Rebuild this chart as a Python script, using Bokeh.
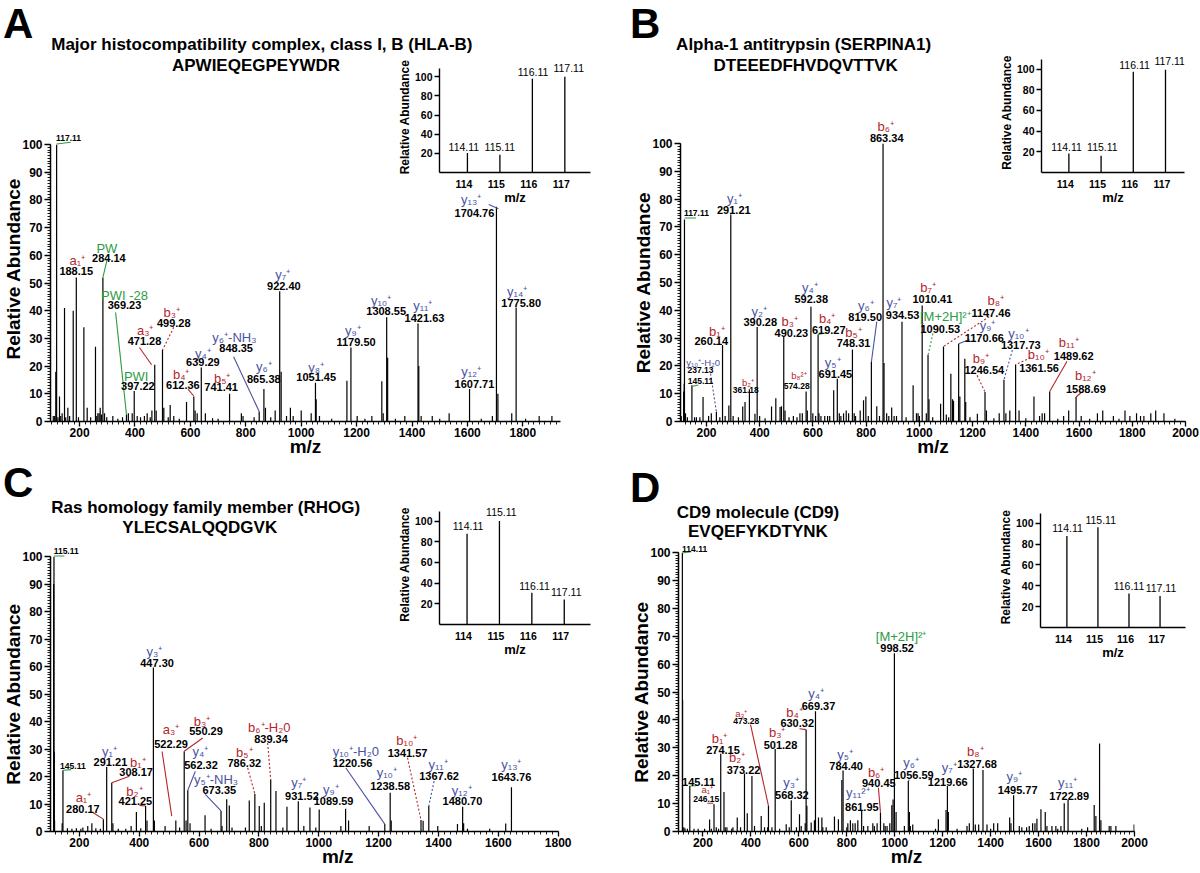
import math
from bokeh.plotting import figure
from bokeh.models import Range1d, FixedTicker, GridBox, Div
from bokeh.embed import file_html
from bokeh.resources import INLINE
from bokeh.core.properties import value

FONT = "Liberation Sans"
COLORS = {"r": "#b5262b", "b": "#4a52a3", "g": "#2d9b45", "k": "#111111"}

REPORTER_MZ = [114.11, 115.11, 116.11, 117.11]
REPORTER_TICKS = [114, 115, 116, 117]
Y_TICKS = list(range(0, 101, 10))
INSET_Y_TICKS = [20, 40, 60, 80, 100]

# ---------------- Panel A ----------------
A_title = "Major histocompatibility complex, class I, B (HLA-B)"
A_peptide = "APWIEQEGPEYWDR"
A_peaks = [(105, 2), (110, 2), (114.11, 18), (117.11, 100), (122, 1.5), (127.5, 9), (132, 2), (137, 3),
           (145.6, 41), (150, 1.5), (157.7, 5), (164, 2), (177, 40), (188.15, 52), (196, 1.5), (215.5, 34),
           (227.4, 5), (240, 1.5), (257.4, 27), (262, 2), (266, 3), (270.5, 3), (274.4, 5), (279, 2.5),
           (284.14, 52), (290, 3), (298, 1.5), (320, 2), (338, 1), (355, 1.5), (369.23, 2.5), (376, 3),
           (390, 3), (397.22, 11), (408, 2), (420, 1.5), (434, 2), (444, 3), (455, 1.5), (461, 4),
           (471.28, 20.5), (476.5, 4), (499.28, 25.8), (504, 5), (520, 1.5), (527, 6), (540, 2), (560, 1),
           (586, 7), (612.36, 9), (617, 4), (624.5, 3), (639.29, 19.5), (654, 3), (680, 1.2), (700, 1),
           (741.41, 10), (784, 3), (790, 2), (830, 1.5), (848.35, 3.6), (865.38, 11.7), (871, 5), (890, 1.5),
           (906, 4), (922.40, 47), (927.6, 18), (947, 2), (961, 5), (971, 2), (1000, 4), (1036, 3),
           (1051.45, 14), (1054, 8), (1066, 2), (1110, 1), (1165, 14.7), (1179.50, 26.7), (1202, 2),
           (1230, 1), (1255, 2), (1291, 14.5), (1296, 3), (1308.55, 37.6), (1312, 23), (1340, 1), (1374, 2),
           (1421.63, 35.4), (1424.5, 20), (1433, 2), (1473, 2), (1500, 1), (1534, 3), (1607.71, 11.7),
           (1650, 1), (1690, 2), (1704.76, 77.5), (1710, 10), (1760, 3), (1775.80, 41.2), (1810, 1),
           (1859, 2), (1905, 2)]
A_reporter = [20.4, 18.5, 98, 100]
# ion text, colour, ion x, ion y, value text, value x, value y, size
A_ann = [("", "k", 0, 0, "117.11", 160, 102.5, "s"),
         ("a₁⁺", "r", 191.4, 58.0, "188.15", 187.8, 54.2, "n"),
         ("PW", "g", 298.5, 62.4, "284.14", 305.8, 59.1, "n"),
         ("PWI -28", "g", 362, 45.4, "369.23", 362, 42.2, "n"),
         ("b₃⁺", "r", 533, 39.2, "499.28", 540, 35.4, "n"),
         ("a₃⁺", "r", 436.8, 32.8, "471.28", 434.2, 28.9, "n"),
         ("PWI", "g", 404.3, 16.2, "397.22", 410.4, 12.9, "n"),
         ("y₄⁺", "b", 645, 24.7, "639.29", 645, 21.3, "n"),
         ("b₄⁺", "r", 566.7, 17.1, "612.36", 572.8, 13.2, "n"),
         ("b₅⁺", "r", 714.7, 15.7, "741.41", 711, 12.3, "n"),
         ("y₆⁺-NH₃", "b", 759, 30.4, "848.35", 765, 26.7, "n"),
         ("y₆⁺", "b", 865, 19.8, "865.38", 865, 15.5, "n"),
         ("y₇⁺", "b", 933.7, 53, "922.40", 937.3, 49, "n"),
         ("y₈⁺", "b", 1054, 19.5, "1051.45", 1054, 15.9, "n"),
         ("y₉⁺", "b", 1186.4, 32.8, "1179.50", 1198, 28.6, "n"),
         ("y₁₀⁺", "b", 1288.5, 43.6, "1308.55", 1306.6, 40, "n"),
         ("y₁₁⁺", "b", 1439, 41.8, "1421.63", 1445, 37.4, "n"),
         ("y₁₂⁺", "b", 1613.5, 18.1, "1607.71", 1625.4, 13.5, "n"),
         ("y₁₃⁺", "b", 1613.5, 80, "1704.76", 1625.4, 75.2, "n"),
         ("y₁₄⁺", "b", 1779.7, 47, "1775.80", 1794, 42.6, "n")]
A_lines = [(117.11, 100.2, 168, 100.8, "g", "solid"),
           (284.14, 52, 299, 58.3, "g", "solid"),
           (330, 39.4, 369.23, 2.5, "g", "solid"),
           (540, 34, 499.28, 25.8, "r", "dotted"),
           (416, 26.7, 460, 20.5, "r", "solid"),
           (591, 11.7, 612.36, 9.2, "r", "solid"),
           (756, 23.4, 848.35, 3.6, "b", "solid"),
           (1677, 78.3, 1712, 76.8, "b", "solid")]

# ---------------- Panel B ----------------
B_title = "Alpha-1 antitrypsin (SERPINA1)"
B_peptide = "DTEEEDFHVDQVTTVK"
B_peaks = [(105, 2), (114.11, 10.8), (116.11, 13.6), (117.11, 72.7), (121, 3), (128, 1.5), (145.11, 13),
           (155, 1.5), (162, 1.5), (175, 1.5), (186.9, 8.8), (207.8, 2), (218, 3), (237.13, 3.5),
           (250, 1.5), (260.14, 27.5), (270, 2), (283.9, 5.8), (291.21, 74.5), (300, 2), (320, 1.5),
           (336, 5.4), (344.7, 7), (361.18, 11.6), (382, 2.8), (390.28, 34), (399.6, 2), (420, 1.2),
           (444.3, 5.4), (460.4, 8.4), (476.4, 5.2), (481.6, 5.5), (490.23, 30.5), (495, 4), (510, 1.5),
           (526.4, 2), (540, 1.5), (551, 3), (560, 3), (574.28, 10.8), (578.7, 4), (592.38, 41.3),
           (599.5, 3), (610, 2), (619.27, 31.3), (622.5, 3), (630, 2), (644.3, 2), (655, 2), (663, 2),
           (677.9, 11.2), (691.45, 15.4), (699, 3), (705, 2), (715, 3), (725, 4), (734, 3), (748.31, 25.9),
           (755, 3), (760, 2), (777.5, 4), (790, 7.6), (798.8, 9), (808, 2), (819.50, 21.4), (839.8, 5.5),
           (850, 2), (863.34, 100), (867, 21), (877, 3), (885, 2), (895.8, 5), (905, 2), (914, 2),
           (934.53, 35.9), (950, 1.5), (976.4, 13), (989, 3), (995, 3), (1000, 2), (1010.41, 41.7),
           (1026, 3), (1032.4, 23.9), (1036, 8), (1050, 1.5), (1079.7, 6.4), (1090.53, 27), (1101, 2.5),
           (1110, 1.5), (1118.2, 17.2), (1124.5, 8), (1128.2, 7.5), (1147.46, 28), (1152, 9),
           (1170.66, 22.6), (1174, 7), (1190, 1.5), (1217.8, 2.8), (1246.54, 10.6), (1252, 4), (1280, 1.2),
           (1299.9, 3), (1317.73, 15), (1324.9, 3), (1339.8, 4), (1361.56, 20.5), (1374.5, 4), (1400, 1.2),
           (1430.5, 9), (1451.6, 2), (1461.4, 3), (1470.4, 3), (1489.62, 10.8), (1520, 1), (1542, 2),
           (1561, 4), (1588.69, 8.8), (1608, 2), (1640, 1), (1669, 3), (1689, 4), (1729, 2), (1750, 1),
           (1772.6, 4), (1791, 2), (1816, 3), (1831, 2), (1843.6, 2), (1869.6, 3), (1888, 4), (1919, 3),
           (1960, 1)]
B_reporter = [18.4, 16.2, 97.4, 99.3]
B_ann = [("", "k", 0, 0, "117.11", 162, 74.9, "s"),
         ("y₁⁺", "b", 304.8, 80.1, "291.21", 302.6, 76, "n"),
         ("b₁⁺", "r", 239.1, 32.5, "260.14", 217.9, 29.1, "n"),
         ("y₁₀⁺-H₂0", "b", 187.3, 21.4, "237.13", 177.3, 18.6, "s"),
         ("", "k", 0, 0, "145.11", 177.3, 14.4, "s"),
         ("b₂⁺", "r", 355.8, 14.2, "361.18", 347.2, 11.2, "s"),
         ("y₂⁺", "b", 398.1, 39.5, "390.28", 401.8, 35.9, "n"),
         ("b₃⁺", "r", 512.6, 36.1, "490.23", 519, 32, "n"),
         ("b₈²⁺", "r", 547.3, 16.6, "574.28", 538.7, 12.8, "s"),
         ("y₄⁺", "b", 588.3, 48.3, "592.38", 593.6, 44.1, "n"),
         ("b₄⁺", "r", 653.3, 37.1, "619.27", 659.2, 32.9, "n"),
         ("b₅⁺", "r", 752.5, 31.9, "748.31", 752.5, 28.4, "n"),
         ("y₅⁺", "b", 674.2, 21.2, "691.45", 684.2, 17.2, "n"),
         ("y₆⁺", "b", 798.8, 41.7, "819.50", 796.2, 37.7, "n"),
         ("b₆⁺", "r", 873.4, 106.1, "863.34", 877.1, 102.1, "n"),
         ("y₇⁺", "b", 904.4, 42.9, "934.53", 936.8, 38.3, "n"),
         ("b₇⁺", "r", 1032.4, 48.2, "1010.41", 1048.8, 43.9, "n"),
         ("[M+2H]²⁺", "g", 1097.3, 37.7, "1090.53", 1078.6, 33.2, "n"),
         ("b₈⁺", "r", 1287.6, 43.4, "1147.46", 1268.9, 39.2, "n"),
         ("y₉⁺", "b", 1256.2, 34.7, "1170.66", 1243.9, 30.1, "n"),
         ("y₁₀⁺", "b", 1371.9, 31.7, "1317.73", 1380.9, 27.5, "n"),
         ("b₉⁺", "r", 1231.6, 22.6, "1246.54", 1243.9, 18.4, "n"),
         ("b₁₀⁺", "r", 1446.9, 24.1, "1361.56", 1449.5, 19.3, "n"),
         ("b₁₁⁺", "r", 1561, 28.4, "1489.62", 1579.7, 23.5, "n"),
         ("b₁₂⁺", "r", 1623.3, 16.4, "1588.69", 1625.6, 11.8, "n")]
B_lines = [(117.11, 73.2, 160, 73.2, "g", "solid"),
           (230, 27.7, 257.6, 27.7, "r", "solid"),
           (215.2, 17.2, 237.13, 3.5, "b", "dotted"),
           (145.11, 12.6, 168.8, 13.1, "g", "solid"),
           (619.27, 31.3, 653, 31.9, "g", "solid"),
           (839.8, 35.9, 819.5, 21.4, "b", "solid"),
           (1051, 31.7, 1032.4, 23.9, "g", "dotted"),
           (1262.6, 37.7, 1090.53, 27, "r", "dotted"),
           (1187.9, 29.5, 1147.46, 28, "b", "solid"),
           (1349.5, 25.7, 1317.73, 15, "b", "dotted"),
           (1216.7, 16.6, 1246.54, 10.6, "r", "dotted"),
           (1418.1, 22.9, 1361.56, 20.5, "r", "dotted"),
           (1554.7, 21.7, 1489.62, 10.8, "r", "solid"),
           (1610.6, 10.6, 1588.69, 8.8, "r", "solid")]

# ---------------- Panel C ----------------
C_title = "Ras homology family member (RHOG)"
C_peptide = "YLECSALQQDGVK"
C_peaks = [(114.11, 90), (115.11, 100), (116.11, 29), (117.11, 4), (142.5, 3), (145.11, 22.3), (160, 1.2),
           (175, 1), (190, 1.2), (205, 1), (211.6, 1.5), (228, 2), (241.7, 3), (255, 1.2), (270, 1),
           (280.17, 4.5), (291.21, 23.5), (308.17, 17.7), (312, 3), (330, 1), (355, 1), (372.9, 2),
           (390.5, 7.1), (405, 1.2), (421.25, 9.3), (426, 4), (447.30, 59.6), (450.6, 4), (486.4, 2),
           (522.29, 4), (535, 1.5), (550.29, 29.2), (556.5, 4), (562.32, 15), (569.8, 3), (619.9, 5.9),
           (640, 1), (673.35, 7.5), (676.6, 2), (692.3, 11.7), (701, 9.5), (710, 1.5), (755, 1.5),
           (767.7, 11.3), (786.32, 13.7), (801.1, 9.3), (808, 2), (817.8, 10.5), (839.34, 18.9),
           (856.9, 14.7), (880, 1.5), (893.6, 9), (931.52, 11), (950, 2), (970.4, 8.7), (990, 1.5),
           (1001.4, 8), (1073.8, 2), (1089.59, 8.3), (1099.5, 4), (1168.3, 2), (1220.56, 2.7),
           (1238.58, 14.1), (1242, 4), (1341.57, 4.2), (1348.6, 3.9), (1367.62, 9.3), (1397.6, 2),
           (1463.4, 2.7), (1480.70, 9), (1484, 3), (1496.8, 1), (1571, 1), (1624.6, 2.9), (1643.76, 16.1)]
C_reporter = [87.8, 100, 30.7, 24.2]
C_ann = [("", "k", 0, 0, "115.11", 155.9, 102.1, "s"),
         ("", "k", 0, 0, "145.11", 178.3, 23.9, "s"),
         ("a₁⁺", "r", 213.6, 12.3, "280.17", 211.6, 8.1, "n"),
         ("y₁⁺", "b", 300.4, 29.1, "291.21", 303.8, 25.2, "n"),
         ("b₁⁺", "r", 395.2, 25.2, "308.17", 389.5, 21.5, "n"),
         ("b₂⁺", "r", 383.9, 14.7, "421.25", 387.2, 11.1, "n"),
         ("y₃⁺", "b", 450.6, 65.3, "447.30", 459.6, 61.3, "n"),
         ("a₃⁺", "r", 506.4, 37, "522.29", 506.4, 31.9, "n"),
         ("b₃⁺", "r", 609.9, 40, "550.29", 623.2, 36.4, "n"),
         ("y₄⁺", "b", 604.2, 29.1, "562.32", 606.5, 24.3, "n"),
         ("y₅⁺-NH₃", "b", 656.6, 18.9, "673.35", 667.6, 15, "n"),
         ("b₅⁺", "r", 751.1, 28.8, "786.32", 751.1, 24.9, "n"),
         ("b₆⁺-H₂0", "r", 834.5, 38, "839.34", 840.2, 33.6, "n"),
         ("y₇⁺", "b", 932.6, 17.7, "931.52", 943.7, 12.9, "n"),
         ("y₉⁺", "b", 1040.5, 15.3, "1089.59", 1049.5, 11.1, "n"),
         ("y₁₀⁺-H₂0", "b", 1123.9, 29.1, "1220.56", 1112.9, 24.9, "n"),
         ("y₁₀⁺", "b", 1227.4, 21.3, "1238.58", 1238.4, 16.5, "n"),
         ("b₁₀⁺", "r", 1294.1, 33, "1341.57", 1296.5, 28.6, "n"),
         ("y₁₁⁺", "b", 1398.6, 24.3, "1367.62", 1402, 20.1, "n"),
         ("y₁₂⁺", "b", 1477.7, 14.9, "1480.70", 1480, 11.1, "n"),
         ("y₁₃⁺", "b", 1643.6, 24.3, "1643.76", 1643.6, 19.9, "n")]
C_lines = [(115.11, 100.2, 150, 100.2, "g", "solid"),
           (145.11, 22.3, 172.6, 22.5, "g", "solid"),
           (245, 6.9, 280.17, 4.5, "r", "solid"),
           (367.2, 20.1, 308.17, 17.7, "r", "solid"),
           (400.6, 9.5, 421.25, 9.3, "r", "solid"),
           (476.3, 29.1, 508.7, 5.6, "r", "solid"),
           (612.2, 34, 550.29, 29.2, "r", "solid"),
           (587.5, 21.9, 562.32, 15, "b", "solid"),
           (620.9, 13.5, 673.35, 7.5, "b", "solid"),
           (762.4, 23.1, 786.32, 13.7, "r", "dotted"),
           (829.2, 32.2, 839.34, 18.9, "r", "dotted"),
           (1090.5, 23.1, 1220.56, 2.7, "b", "solid"),
           (1296.5, 26.8, 1341.57, 4.2, "r", "dotted"),
           (1385.3, 18.3, 1367.62, 9.3, "b", "dotted")]

# ---------------- Panel D ----------------
D_title = "CD9 molecule (CD9)"
D_peptide = "EVQEFYKDTYNK"
D_peaks = [(114.11, 100), (115.11, 47), (120, 1.5), (125, 1.2), (135, 1), (145.11, 16.3), (162.7, 1),
           (180, 1), (206.9, 1), (227.7, 4.3), (235, 1), (246.15, 9.8), (255.6, 1.5), (265, 1),
           (274.15, 27.9), (287.7, 14.2), (293, 1.5), (300, 1.5), (320, 1), (325, 1.5), (343, 5),
           (356.8, 1.5), (373.22, 20.8), (384.8, 6.5), (404.3, 19.9), (415, 2), (443, 5.6), (456.8, 1.5),
           (470, 1.5), (473.28, 9.2), (487.7, 1.5), (501.28, 29.6), (520, 1), (547.3, 2.6), (560, 1.5),
           (568.32, 11.2), (590, 1.5), (602.7, 6.2), (609.8, 2), (626.4, 3), (630.32, 36.5), (633.5, 9.2),
           (651.4, 3.2), (665, 4), (669.37, 43.1), (681.9, 5), (696, 5), (700, 1.5), (713.9, 1.5),
           (748.5, 5.4), (765, 4.4), (779.3, 18.5), (784.40, 21.9), (800, 1.5), (804.3, 3), (815, 4),
           (825, 3), (834.8, 3), (846, 4), (861.95, 7.6), (870, 2), (887.7, 2), (908.5, 3), (915, 2),
           (926.4, 3), (940.45, 6.8), (954.4, 3), (960, 2), (968, 2), (979.4, 3), (987.7, 9.4), (993, 11.5),
           (998.52, 63.9), (1005.6, 7), (1040.2, 2), (1056.59, 18.1), (1061, 7), (1065, 2), (1075, 2.5),
           (1170, 1), (1181.9, 4.4), (1213.9, 7.7), (1219.66, 16.3), (1223.5, 7), (1260, 1), (1301.4, 2),
           (1311, 3), (1327.68, 22.6), (1336, 2.5), (1350, 2.5), (1368, 22), (1384.8, 2.5), (1400, 1),
           (1412.7, 3), (1429.3, 3), (1479.3, 5), (1484.8, 3), (1495.77, 13), (1519.4, 2), (1530, 1.5),
           (1550, 1.5), (1561, 2), (1575, 3), (1584.8, 3), (1593, 4.6), (1609.8, 8), (1627.7, 7),
           (1634.8, 2), (1655.6, 2), (1672, 2), (1680, 1), (1693, 2), (1706.9, 10.1), (1722.89, 11.3),
           (1780, 1), (1804.4, 1.5), (1831.9, 9.5), (1838.9, 5.6), (1854.3, 31.5), (1859.8, 4),
           (1894.4, 2), (1901.5, 2), (1922.3, 2), (1998.5, 2.5)]
D_reporter = [87.8, 96.2, 32.7, 30.1]
D_ann = [("", "k", 0, 0, "114.11", 165.2, 101.4, "s"),
         ("", "k", 0, 0, "145.11", 181.9, 17.9, "n"),
         ("a₁⁺", "r", 218.1, 14.9, "246.15", 214, 11.5, "s"),
         ("b₁⁺", "r", 269.3, 33.2, "274.15", 283.5, 29.1, "n"),
         ("b₂⁺", "r", 343.1, 26.4, "373.22", 369.4, 22.2, "n"),
         ("a₃⁺", "r", 359.8, 42.2, "473.28", 380.6, 39.7, "s"),
         ("b₃⁺", "r", 509.8, 35.4, "501.28", 523.5, 30.9, "n"),
         ("y₃⁺", "b", 568.1, 17.5, "568.32", 571, 13, "n"),
         ("b₄⁺", "r", 581.9, 42.5, "630.32", 593.1, 38.9, "n"),
         ("y₄⁺", "b", 672.3, 49.6, "669.37", 681.9, 44.9, "n"),
         ("y₅⁺", "b", 793.1, 27.6, "784.40", 797.3, 23.4, "n"),
         ("y₁₁²⁺", "b", 846, 13.9, "861.95", 862.7, 8.8, "n"),
         ("b₆⁺", "r", 922.3, 21.3, "940.45", 933.5, 17.5, "n"),
         ("[M+2H]²⁺", "g", 1026.4, 69.8, "998.52", 1009.8, 65.7, "n"),
         ("y₆⁺", "b", 1068.1, 24.6, "1056.59", 1079.4, 20.2, "n"),
         ("y₇⁺", "b", 1227.7, 22.9, "1219.66", 1221, 17.9, "n"),
         ("b₈⁺", "r", 1336, 28.8, "1327.68", 1343.1, 24.3, "n"),
         ("y₉⁺", "b", 1498.5, 19.6, "1495.77", 1512.7, 14.7, "n"),
         ("y₁₁⁺", "b", 1721, 17.5, "1722.89", 1727.7, 12.7, "n")]
D_lines = [(114.11, 99.8, 151.4, 100.3, "g", "solid"),
           (145.11, 16.3, 172.3, 16.4, "g", "solid"),
           (218.1, 10.1, 243.1, 10.1, "r", "solid"),
           (398.5, 38.3, 473.28, 9.2, "r", "solid"),
           (602.7, 36.8, 630.32, 36.5, "r", "solid"),
           (931.9, 15.7, 940.45, 6.8, "r", "solid"),
           (1061, 18.6, 1056.59, 18.1, "b", "solid")]

# ---------------- layout: grid cells, axes frames, insets (pixels) ----------------
EM, EN = "\u2003", "\u2002"
# x, y, width, height, grid row, grid col, right border, bottom border
CELLS = {"A": (0, 0, 620, 466, 0, 0, 16, 45), "B": (620, 0, 580, 466, 0, 1, 16, 45),
         "C": (0, 466, 620, 407, 1, 0, 16, 42), "D": (620, 466, 580, 407, 1, 1, 16, 42)}
BL, BT = 49, 8          # common left / top border of every plot in the grid
MAIN = {
    "A": dict(xr=(95, 1936), left=49, top=144, w=510, h=277,
              xticks=list(range(200, 1801, 200)), ylab=EM + EN + "Relative Abundance", xlab="m/z",
              letter=(3, 0), t1=(858, 136.1), t2=(837, 128.5)),
    "B": dict(xr=(102.2, 2000), left=679, top=143, w=505, h=278,
              xticks=list(range(200, 2001, 200)), ylab="Relative Abundance", xlab="m/z",
              letter=(10, 0), t1=(564.9, 135.6), t2=(572.3, 128)),
    "C": dict(xr=(103.5, 1801), left=49, top=556, w=508, h=275,
              xticks=list(range(200, 1801, 200)), ylab="Relative Abundance", xlab=EM * 3 + EN + "m/z",
              letter=(3, -7), t1=(622, 117.7), t2=(602.2, 110.5)),
    "D": dict(xr=(98, 2000), left=677, top=552, w=456, h=279,
              xticks=list(range(200, 2001, 200)), ylab="Relative Abundance", xlab="m/z",
              letter=(10, -2), t1=(429.3, 114.5), t2=(429.3, 107.7)),
}
INSET = {
    "A": dict(left=438, right=589, base=172, ppu=0.96, ix=(113.25, 117.9),
              labs=[(114.0, 27), (115.11, 27), (116.13, 105), (117.23, 109)]),
    "B": dict(left=1040, right=1183, base=172, ppu=1.034, ix=(113.26, 117.7),
              labs=[(114.04, 24.2), (115.15, 24.2), (116.15, 103.9), (117.24, 107.4)]),
    "C": dict(left=438, right=589, base=624, ppu=1.033, ix=(113.26, 117.92),
              labs=[(114.14, 94.9), (115.17, 108.7), (116.19, 37.1), (117.17, 31.3)]),
    "D": dict(left=1039, right=1184, base=627, ppu=1.04, ix=(113.26, 117.93),
              labs=[(114.13, 95.2), (115.2, 103.2), (116.11, 39.7), (117.14, 38.1)]),
}
INSET_TOP = 116

SIZES = {"n": ("13px", "11px"), "s": ("9.5px", "8.5px")}


def style_axis(ax, tick_size, label_size):
    ax.axis_line_width = 1.5
    ax.axis_line_color = "black"
    ax.major_tick_line_color = "black"
    ax.minor_tick_line_color = "black"
    ax.major_tick_line_width = 1.3
    ax.minor_tick_line_width = 0.9
    ax.major_tick_in = 0
    ax.minor_tick_in = 0
    ax.major_label_text_font = FONT
    ax.major_label_text_font_style = "bold"
    ax.major_label_text_font_size = tick_size
    ax.major_label_text_color = "black"
    ax.axis_label_text_font = FONT
    ax.axis_label_text_font_style = "bold"
    ax.axis_label_text_font_size = label_size
    ax.axis_label_text_color = "black"


def make_fig(cell, fw, fh, xr, yr, ml, mt, transparent, axes=True):
    br, bb = cell[6], cell[7]
    kw = {} if axes else dict(x_axis_location=None, y_axis_location=None)
    p = figure(frame_width=fw, frame_height=fh, x_range=Range1d(*xr), y_range=Range1d(*yr),
               min_border_left=BL, min_border_top=BT, min_border_right=br, min_border_bottom=bb,
               margin=(mt, 0, 0, ml), output_backend="svg", toolbar_location=None, title=None, **kw)
    p.outline_line_color = None
    p.xgrid.visible = False
    p.ygrid.visible = False
    if transparent:
        p.background_fill_color = None
        p.border_fill_color = None
    return p


def build(key, title, peptide, peaks, reporter, ann, lines):
    cell = CELLS[key]
    cx, cy, cw, ch, gr, gc, br, bb = cell
    M = MAIN[key]
    xs, xend = M["xr"]

    # ---- spectrum with its axes ----
    f = make_fig(cell, M["w"], M["h"], (xs, xend), (0, 100),
                 M["left"] - BL - cx, M["top"] - BT - cy, False)
    xa, ya = f.xaxis[0], f.yaxis[0]
    style_axis(xa, "12px", "19px")
    style_axis(ya, "12px", "19px")
    xa.ticker = FixedTicker(ticks=M["xticks"], minor_ticks=[m for m in range(100, 2001, 20) if xs <= m <= xend])
    ya.ticker = FixedTicker(ticks=Y_TICKS, minor_ticks=list(range(0, 101)))
    ya.axis_label = M["ylab"]
    ya.axis_label_standoff = -5
    ya.major_tick_out = 6
    ya.minor_tick_out = 3
    ya.major_label_standoff = 2
    xa.axis_label = M["xlab"]
    xa.axis_label_standoff = -4
    xa.major_tick_out = 5
    xa.minor_tick_out = 3
    xa.major_label_standoff = 1
    mz = [a for a, _ in peaks]
    it = [b for _, b in peaks]
    f.segment(x0=mz, y0=[0] * len(mz), x1=mz, y1=it, line_color="black", line_width=1.2)

    # ---- transparent annotation layer over the panel, same data scale as the spectrum ----
    upx = (xend - xs) / M["w"]
    upy = 100.0 / M["h"]
    gw, gh = cw - BL - br, ch - BT - bb
    gx0 = xs + (cx + BL - M["left"]) * upx
    gy0 = -((cy + ch - bb) - (M["top"] + M["h"])) * upy
    g = make_fig(cell, gw, gh, (gx0, gx0 + gw * upx), (gy0, gy0 + gh * upy), 0, 0, True, axes=False)
    for dash, dstr in (("solid", "solid"), ("dotted", "2 2")):
        sel = [l for l in lines if l[5] == dash]
        if sel:
            g.segment(x0=[l[0] for l in sel], y0=[l[1] for l in sel], x1=[l[2] for l in sel],
                      y1=[l[3] for l in sel], line_color=[COLORS[l[4]] for l in sel],
                      line_width=1.1, line_dash=dstr)
    ions = [a for a in ann if a[0]]
    g.text(x=[a[2] for a in ions], y=[a[3] for a in ions], text=[a[0] for a in ions],
           text_color=[COLORS[a[1]] for a in ions], text_font=value(FONT),
           text_font_size=[SIZES[a[7]][0] for a in ions], text_align="center", text_baseline="middle")
    g.text(x=[a[5] for a in ann], y=[a[6] for a in ann], text=[a[4] for a in ann],
           text_color="black", text_font=value(FONT), text_font_style=value("bold"),
           text_font_size=[SIZES[a[7]][1] for a in ann], text_align="center", text_baseline="middle")
    g.text(x=[M["t1"][0], M["t2"][0]], y=[M["t1"][1], M["t2"][1]], text=[title, peptide],
           text_color="black", text_font=value(FONT), text_font_style=value("bold"),
           text_font_size=value("17px"), text_align="center", text_baseline="middle")

    # ---- reporter-ion inset with its own axes ----
    I = INSET[key]
    a, b = I["ix"]
    iw = I["right"] - I["left"]
    ih = int(round(INSET_TOP * I["ppu"]))
    ins = make_fig(cell, iw, ih, (a, b), (0, INSET_TOP), I["left"] - BL - cx,
                   I["base"] - ih - BT - cy, True)
    ixa, iya = ins.xaxis[0], ins.yaxis[0]
    style_axis(ixa, "10.5px", "13px")
    style_axis(iya, "10.5px", "12px")
    ixa.axis_line_width = 1.4
    iya.axis_line_width = 1.4
    ixa.ticker = FixedTicker(ticks=REPORTER_TICKS, minor_ticks=[])
    iya.ticker = FixedTicker(ticks=INSET_Y_TICKS, minor_ticks=[])
    iya.bounds = (0, 109)
    ixa.major_tick_out = 0
    ixa.minor_tick_out = 0
    ixa.major_label_standoff = 7
    ixa.axis_label = "m/z"
    ixa.axis_label_standoff = -1
    iya.major_tick_out = 5
    iya.minor_tick_out = 0
    iya.major_label_standoff = 2
    iya.axis_label = "Relative Abundance"
    iya.axis_label_standoff = 0
    ins.segment(x0=REPORTER_MZ, y0=[0] * 4, x1=REPORTER_MZ, y1=reporter, line_color="black", line_width=1.3)
    ins.text(x=[l[0] for l in I["labs"]], y=[l[1] for l in I["labs"]],
             text=["%.2f" % m for m in REPORTER_MZ], text_color="black", text_font=value(FONT),
             text_font_size=value("10.5px"), text_align="center", text_baseline="middle")

    # ---- panel letter ----
    ml, mt = M["letter"]
    let = Div(text=key, width=40, height=48, margin=(mt, 0, 0, ml),
              styles={"font-family": FONT, "font-size": "42px", "font-weight": "bold",
                      "line-height": "47px", "color": "black"})
    return [(f, gr, gc), (g, gr, gc), (ins, gr, gc), (let, gr, gc)]


children = []
children += build("A", A_title, A_peptide, A_peaks, A_reporter, A_ann, A_lines)
children += build("B", B_title, B_peptide, B_peaks, B_reporter, B_ann, B_lines)
children += build("C", C_title, C_peptide, C_peaks, C_reporter, C_ann, C_lines)
children += build("D", D_title, D_peptide, D_peaks, D_reporter, D_ann, D_lines)

layout = GridBox(children=children)
open("out.html", "w").write(file_html(layout, INLINE))
